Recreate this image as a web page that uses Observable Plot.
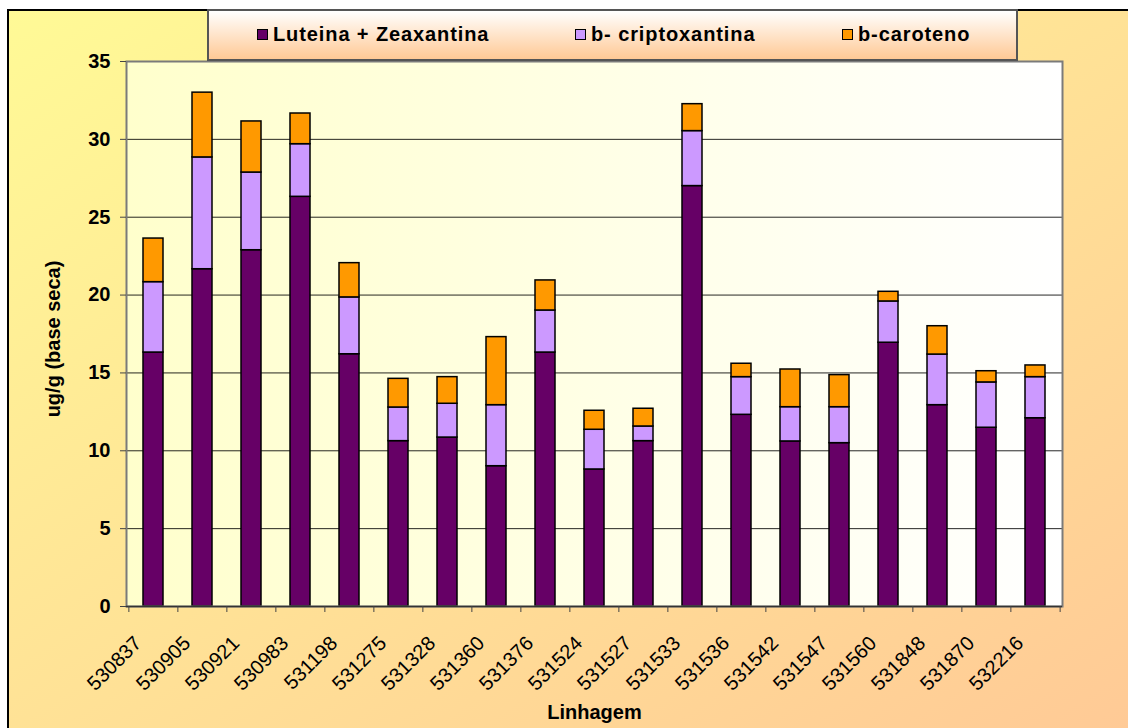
<!DOCTYPE html>
<html>
<head>
<meta charset="utf-8">
<script src="https://cdn.jsdelivr.net/npm/d3@7"></script>
<script src="https://cdn.jsdelivr.net/npm/@observablehq/plot@0.6"></script>
<style>
  body { margin: 0; background: #fff; }
  #chart { position: relative; width: 1128px; height: 728px; overflow: hidden; font-family: "Liberation Sans", Arial, sans-serif; }
  #bg { position: absolute; left: 7px; top: 9px; width: 1121px; height: 719px; box-sizing: border-box;
        border-top: 2px solid #000; border-left: 2px solid #000;
        background: linear-gradient(to bottom right, #FFFA96, #FFCA96); }
  #plotwrap { position: absolute; left: 0; top: 0; }
  #legend { position: absolute; left: 207px; top: 9px; width: 811px; height: 52px; box-sizing: border-box;
            border: 2px solid #555; background: linear-gradient(to bottom, #FFFFFF, #FFC995); }
  .item { position: absolute; top: 12px; display: flex; align-items: center; font-size: 20px; font-weight: bold; letter-spacing: 0.9px; color: #000; }
  .sw { width: 9px; height: 9px; border: 1.5px solid #000; margin-right: 5px; }
</style>
</head>
<body>
<div id="chart">
  <div id="bg"></div>
  <div id="plotwrap"></div>
  <div id="legend"></div>
</div>
<script>
const categories = ["530837","530905","530921","530983","531198","531275","531328","531360","531376","531524","531527","531533","531536","531542","531547","531560","531848","531870","532216"];
const seriesNames = ["Luteina + Zeaxantina", "b- criptoxantina", "b-caroteno"];
const luteina      = [16.31, 21.66, 22.88, 26.31, 16.20, 10.62, 10.85, 9.01, 16.31, 8.80, 10.62, 27.00, 12.31, 10.60, 10.49, 16.94, 12.93, 11.48, 12.09];
const criptoxantina = [4.52, 7.18, 4.99, 3.38, 3.65, 2.16, 2.17, 3.92, 2.70, 2.55, 0.94, 3.53, 2.42, 2.20, 2.31, 2.65, 3.25, 2.91, 2.64];
const caroteno     = [2.80, 4.16, 3.28, 1.97, 2.20, 1.84, 1.71, 4.37, 1.93, 1.22, 1.14, 1.73, 0.86, 2.42, 2.06, 0.62, 1.82, 0.72, 0.75];
const yTicks = [0, 5, 10, 15, 20, 25, 30, 35];
const colors = ["#660066", "#CC99FF", "#FF9900"];
const yTitle = "ug/g (base seca)";
const xTitle = "Linhagem";

const seriesValues = [luteina, criptoxantina, caroteno];
const rows = [];
seriesNames.forEach((s, i) => {
  categories.forEach((c, j) => rows.push({cat: c, series: s, value: seriesValues[i][j]}));
});

const W = 1128, H = 728, mL = 126, mR = 66, mT = 61, mB = 122;
const step = (W - mL - mR) / categories.length;

const plot = Plot.plot({
  width: W, height: H,
  marginLeft: mL, marginRight: mR, marginTop: mT, marginBottom: mB,
  style: {background: "transparent", fontFamily: "'Liberation Sans', Arial, sans-serif", color: "#000", overflow: "visible"},
  x: {domain: categories, paddingInner: 0.6, paddingOuter: 0.3},
  y: {domain: [0, 35]},
  color: {domain: seriesNames, range: colors},
  marks: [
    Plot.frame({fill: "url(#plotBg)", stroke: "none"}),
    Plot.ruleY(yTicks.filter(t => t > 0 && t < 35), {stroke: "#000", strokeWidth: 1, strokeOpacity: 0.85}),
    Plot.barY(rows, {x: "cat", y: "value", fill: "series", order: seriesNames, stroke: "#000", strokeWidth: 1.5}),
    Plot.frame({stroke: "#7a7a7a", strokeWidth: 2}),
    Plot.ruleY([0], {stroke: "#333", strokeWidth: 1.5}),
    Plot.axisY({ticks: yTicks, tickSize: 6, tickPadding: 10, fontSize: 20, fontWeight: "bold", label: null, stroke: "#444"}),
    Plot.axisX({ticks: categories, tickSize: 6, tickFormat: () => "", dx: -step / 2, label: null, stroke: "#444"}),
    Plot.axisX({ticks: [categories[categories.length - 1]], tickSize: 6, tickFormat: () => "", dx: step / 2, label: null, stroke: "#444"}),
    Plot.text(categories, {x: d => d, frameAnchor: "bottom", text: d => d, rotate: -45, textAnchor: "end", lineAnchor: "bottom", dx: -11, dy: 38, fontSize: 20}),
    Plot.text([yTitle], {frameAnchor: "left", text: d => d, rotate: -90, textAnchor: "middle", lineAnchor: "middle", dx: -73, dy: 5, fontSize: 20, fontWeight: "bold"}),
    Plot.text([xTitle], {frameAnchor: "bottom", text: d => d, textAnchor: "middle", lineAnchor: "middle", dy: 106, fontSize: 20, fontWeight: "bold"})
  ]
});

const ns = "http://www.w3.org/2000/svg";
const defs = document.createElementNS(ns, "defs");
const grad = document.createElementNS(ns, "linearGradient");
grad.setAttribute("id", "plotBg");
grad.setAttribute("x1", "0"); grad.setAttribute("y1", "0");
grad.setAttribute("x2", "1"); grad.setAttribute("y2", "0");
[["0", "#FFFFCC"], ["1", "#FFFFFF"]].forEach(([o, c]) => {
  const st = document.createElementNS(ns, "stop");
  st.setAttribute("offset", o); st.setAttribute("stop-color", c);
  grad.appendChild(st);
});
defs.appendChild(grad);
plot.insertBefore(defs, plot.firstChild);
document.getElementById("plotwrap").appendChild(plot);

const legend = document.getElementById("legend");
const itemLeft = [48, 366, 633];
seriesNames.forEach((s, i) => {
  const it = document.createElement("div");
  it.className = "item";
  it.style.left = itemLeft[i] + "px";
  const sw = document.createElement("div");
  sw.className = "sw";
  sw.style.background = colors[i];
  it.appendChild(sw);
  const tx = document.createElement("span");
  tx.textContent = s;
  it.appendChild(tx);
  legend.appendChild(it);
});
</script>
</body>
</html>
